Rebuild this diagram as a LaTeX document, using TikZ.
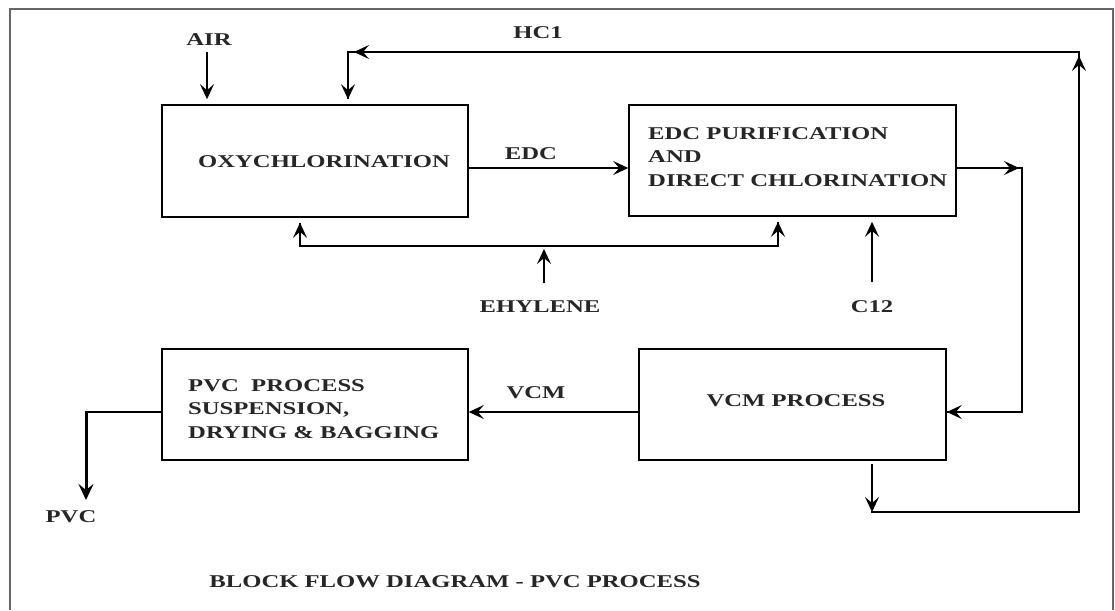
\documentclass[tikz,border=0pt]{standalone}
\usepackage{fontspec}
\newfontfamily\df{Liberation Serif}[FakeStretch=1.37]
\usetikzlibrary{arrows.meta,calc}
\tikzset{
  box/.style={draw, line width=1.6pt, minimum width=#1, minimum height=111pt, inner sep=0pt},
  lbl/.style={font=\df\bfseries\fontsize{18}{23.5}\selectfont, inner sep=0pt, text=black!85},
  ln/.style={line width=1.5pt, line cap=rect, line join=miter},
  arr/.style={line width=1.5pt, -{Stealth[length=15pt,width=14pt,inset=6pt]}},
  thickarr/.style={line width=3pt, -{Stealth[length=16pt,width=15pt,inset=6pt]}},
  framecol/.style={draw=black!60, line width=1.5pt}
}
\begin{document}
\begin{tikzpicture}[x=1pt,y=-1pt]
\useasboundingbox (0,0) rectangle (1115,610);
% outer frame
\draw[framecol] (10,610) -- (10,9) -- (1113,9) -- (1113,610);

% blocks
\node[box=306pt, minimum height=112pt] (oxy) at (315,161) {};
\node[box=327pt] (edc) at (792.5,160.5) {};
\node[box=306pt] (pvc) at (315,404.5) {};
\node[box=307pt] (vcm) at (792.5,404.5) {};

% block texts
\node[lbl, anchor=west] (toxy) at (198,162) {OXYCHLORINATION};
\node[lbl, anchor=west, align=left] (tedc) at (648,157) {EDC PURIFICATION\\AND\\DIRECT CHLORINATION};
\node[lbl, anchor=west, align=left] (tpvc) at (188,409) {PVC\ \ PROCESS\\SUSPENSION,\\DRYING \& BAGGING};
\node[lbl] (tvcm) at (796,401) {VCM PROCESS};

% stream labels
\node[lbl] (air) at (209,40) {AIR};
\node[lbl] (hcl) at (538,33) {HC1};
\node[lbl] (ledc) at (531,154) {EDC};
\node[lbl] (eth) at (540,307) {EHYLENE};
\node[lbl] (cl2) at (872,307) {C12};
\node[lbl] (lvcm) at (536,393) {VCM};
\node[lbl] (pvcout) at (71,517) {PVC};
\node[lbl] (title) at (455,582) {BLOCK FLOW DIAGRAM - PVC PROCESS};

% coordinates
\coordinate (af) at (207,52);
\coordinate (eL) at (0,168);
\coordinate (c2) at (1022,168);
\coordinate (c3) at (1022,412);
\coordinate (po1) at (86,412);
\coordinate (po2) at (86,500);
\coordinate (eth1) at (300,246);
\coordinate (eth2) at (778,246);
\coordinate (ef) at (544,283);
\coordinate (cf) at (872,282);
\coordinate (v1) at (872,464);
\coordinate (v2) at (872,512);
\coordinate (v3) at (1079,512);
\coordinate (v4) at (1079,52);
\coordinate (v5) at (348,52);

% AIR
\draw[arr, shorten >=5pt] (af) -- (af |- oxy.north);
% EDC
\draw[arr] (oxy.east |- eL) -- (edc.west |- eL);
% EDC to VCM
\draw[ln] (edc.east |- eL) -- (c2) -- (c3) -- (c3 -| vcm.east);
\draw[arr] (edc.east |- eL) -- ($(c2)+(-3,0)$);
\draw[arr] (c3) -- (c3 -| vcm.east);
% VCM to PVC
\draw[arr] (c3 -| vcm.west) -- (c3 -| pvc.east);
% PVC out
\draw[ln] (c3 -| pvc.west) -- (po1);
\draw[thickarr] (po1) -- (po2);
% ethylene
\draw[ln] (eth1 |- oxy.south) ++(0,6) -- (eth1) -- (eth2) -- ($(eth2 |- edc.south)+(0,6)$);
\draw[arr, shorten >=5pt] (eth1) -- (eth1 |- oxy.south);
\draw[arr, shorten >=5pt] (eth2) -- (eth2 |- edc.south);
\draw[arr, shorten >=3pt] (ef) -- (ef |- eth1);
% Cl2
\draw[arr, shorten >=5pt] (cf) -- (cf |- edc.south);
% HCl recycle
\draw[ln] (v2) -- (v3) -- (v4) -- (v5) -- ($(v5 |- oxy.north)+(0,-6)$);
\draw[arr] (v1) -- (v2);
\draw[arr, shorten >=4pt] (v3) -- (v4);
\draw[arr, shorten >=6pt] (v4) -- (v5);
\draw[arr, shorten >=5pt] (v5) -- (v5 |- oxy.north);
\end{tikzpicture}
\end{document}
